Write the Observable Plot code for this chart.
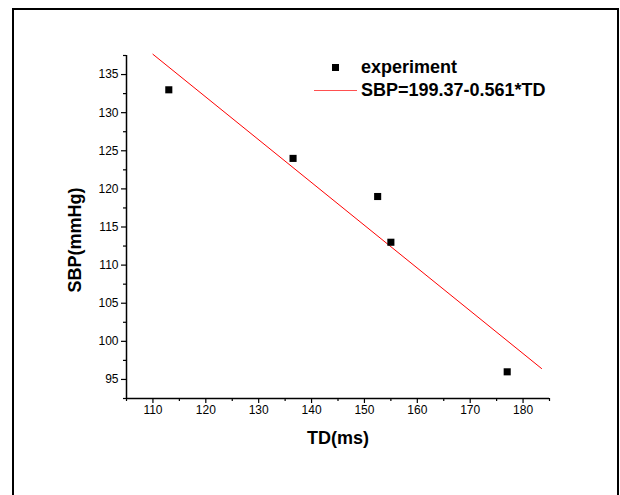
<!DOCTYPE html>
<html>
<head>
<meta charset="utf-8">
<script src="https://cdn.jsdelivr.net/npm/d3@7"></script>
<script src="https://cdn.jsdelivr.net/npm/@observablehq/plot@0.6"></script>
<style>
  html, body { margin: 0; padding: 0; background: #fff; overflow: hidden; }
  #wrap { position: relative; width: 620px; height: 495px; overflow: hidden; font-family: "Liberation Sans", Arial, sans-serif; }
  #frame { position: absolute; left: 12px; top: 8px; width: 607px; height: 600px; border: 2px solid #000; box-sizing: border-box; pointer-events: none; }
  #chart { position: absolute; left: 0; top: 0; }
  #legend { position: absolute; left: 312px; top: 56px; font-weight: bold; font-size: 18px; color: #000; }
  .row { position: relative; height: 23px; line-height: 23px; padding-left: 49px; white-space: nowrap; }
  .sq { position: absolute; left: 20px; top: 8px; width: 7px; height: 7px; background: #000; }
  .ln { position: absolute; left: 2px; top: 11px; width: 43px; height: 0; border-top: 1.5px solid #ff5050; }
</style>
</head>
<body>
<div id="wrap">
  <div id="chart"></div>
  <div id="frame"></div>
  <div id="legend">
    <div class="row"><span class="sq"></span><span id="lab1"></span></div>
    <div class="row"><span class="ln"></span><span id="lab2"></span></div>
  </div>
</div>
<script>
// measured points
const td = [113, 136.5, 152.5, 155, 177];
const sbp = [133, 124, 119, 113, 96];
// fitted line end points (SBP = 199.37 - 0.561*TD)
const fitTD = [110, 183.5];
const fitSBP = [137.66, 96.43];
// axis ticks
const xMajor = [110, 120, 130, 140, 150, 160, 170, 180];
const xMinor = [105, 115, 125, 135, 145, 155, 165, 175, 185];
const yMajor = [95, 100, 105, 110, 115, 120, 125, 130, 135];
const yMinor = [92.5, 97.5, 102.5, 107.5, 112.5, 117.5, 122.5, 127.5, 132.5, 137.5];
const xDomain = [105, 185];
const yDomain = [92.5, 137.5];
const legendLabels = ["experiment", "SBP=199.37-0.561*TD"];
const xLabel = "TD(ms)";
const yLabel = "SBP(mmHg)";

const points = td.map((v, i) => ({td: v, sbp: sbp[i]}));
const fit = fitTD.map((v, i) => ({td: v, sbp: fitSBP[i]}));

document.getElementById("lab1").textContent = legendLabels[0];
document.getElementById("lab2").textContent = legendLabels[1];

const chart = Plot.plot({
  width: 620,
  height: 495,
  marginLeft: 126,
  marginRight: 71,
  marginTop: 55,
  marginBottom: 97,
  style: {fontFamily: "'Liberation Sans', Arial, sans-serif", background: "transparent", color: "#000"},
  x: {domain: xDomain},
  y: {domain: yDomain},
  marks: [
    Plot.axisX(xMajor, {tickSize: 5, tickPadding: 2, fontSize: 12, label: null, stroke: "#000", strokeWidth: 1.2}),
    Plot.axisX(xMinor, {tickSize: 3, tickFormat: () => "", label: null, stroke: "#000", strokeWidth: 1.2}),
    Plot.axisY(yMajor, {tickSize: 5, tickPadding: 3, fontSize: 12, label: null, stroke: "#000", strokeWidth: 1.2}),
    Plot.axisY(yMinor, {tickSize: 3, tickFormat: () => "", label: null, stroke: "#000", strokeWidth: 1.2}),
    Plot.ruleX([xDomain[0]], {y1: yDomain[0], y2: yDomain[1], stroke: "#000", strokeWidth: 1.5}),
    Plot.ruleY([yDomain[0]], {x1: xDomain[0], x2: xDomain[1], stroke: "#000", strokeWidth: 1.5}),
    Plot.line(fit, {x: "td", y: "sbp", stroke: "#ff0000", strokeWidth: 1}),
    Plot.dot(points, {x: "td", y: "sbp", symbol: "square", r: 4, fill: "#000", stroke: "none"}),
    Plot.text([xLabel], {frameAnchor: "bottom", dy: 45, text: d => d, fontSize: 18, fontWeight: "bold", fill: "#000"}),
    Plot.text([yLabel], {frameAnchor: "left", textAnchor: "middle", dx: -51, dy: 13, rotate: -90, text: d => d, fontSize: 18, fontWeight: "bold", fill: "#000"})
  ]
});
document.getElementById("chart").appendChild(chart);
</script>
</body>
</html>
